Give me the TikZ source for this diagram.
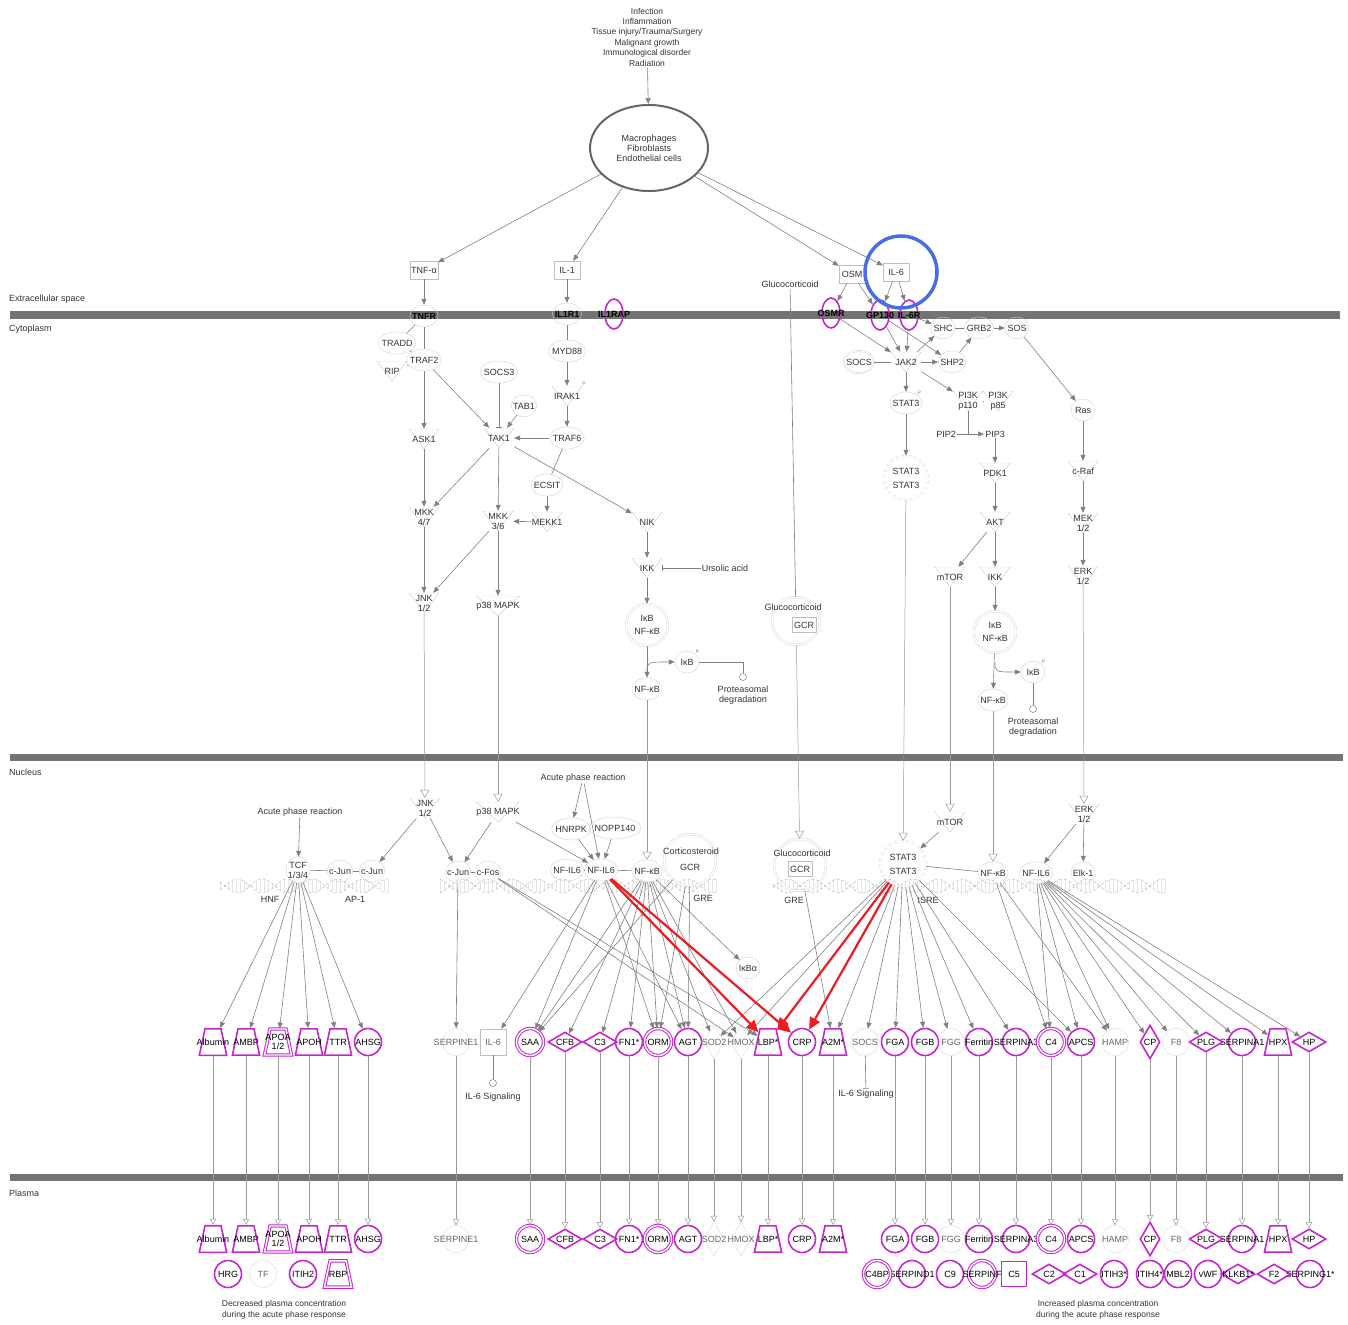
\documentclass[tikz,border=0pt]{standalone}
\usepackage{fontspec}
\setmainfont{Liberation Sans}
\usetikzlibrary{shapes.geometric,arrows.meta}
\definecolor{apmag}{RGB}{196,38,206}
\definecolor{hiblue}{RGB}{72,110,228}
\definecolor{hired}{RGB}{236,28,36}
\newcommand\ovtext[1]{\makebox[0pt]{#1}}

\begin{document}
\begin{tikzpicture}[x=1pt, y=-1pt,
    every node/.style={font=\fontsize{9}{10}\selectfont, text=black!80, inner sep=1pt},
    lbl/.style={align=center},
    mol/.style={ellipse, draw=black!18, minimum width=24pt, minimum height=22pt, inner xsep=-2pt, inner ysep=1pt},
    kin/.style={minimum width=30pt, minimum height=20pt, align=center, inner sep=0pt,
        path picture={\draw[black!22] (path picture bounding box.north west) -- (path picture bounding box.north east) -- (path picture bounding box.south) -- cycle;}},
    box/.style={draw=black!25, minimum width=26pt, minimum height=18pt},
    cpx/.style={circle, draw=black!18, double=white, double distance=1.5pt, minimum size=44pt, align=center, inner sep=0pt},
    rcp/.style={text=black, font=\fontsize{9}{10}\selectfont\bfseries},
    mel/.style={rcp, ellipse, draw=apmag, line width=1.6pt, minimum width=18pt, minimum height=30pt, inner sep=0pt},
    mc/.style={circle, draw=apmag, line width=1.6pt, minimum size=27pt, inner sep=0pt, text=black},
    mcc/.style={mc, line width=1pt, double=white, double distance=1.4pt},
    mt/.style={trapezium, draw=apmag, line width=1.6pt, trapezium left angle=78, trapezium right angle=78,
        inner xsep=8pt, inner ysep=10pt, text=black},
    mtt/.style={mt, line width=1pt, double=white, double distance=1.4pt, inner ysep=5pt},
    md/.style={diamond, draw=apmag, line width=1.6pt, minimum width=34pt, minimum height=20pt, inner sep=0pt, text=black},
    mdt/.style={md, minimum width=20pt, minimum height=34pt},
    msq/.style={rectangle, draw=apmag, line width=1.6pt, minimum size=25pt, text=black},
    fc/.style={circle, draw=black!15, minimum size=27pt, inner sep=0pt, text=black!60},
    fd/.style={diamond, draw=black!15, minimum width=20pt, minimum height=34pt, inner sep=0pt, text=black!60},
    dot/.style={circle, draw=black!60, minimum size=7pt, inner sep=0pt},
    pm/.style={label={[font=\fontsize{5}{5}\selectfont, text=black!50, inner sep=0pt]north east:P}},
    ar/.style={black!50, line width=0.6pt, -{Triangle[length=6pt,width=5pt]}},
    ln/.style={black!50, line width=0.6pt},
    inh/.style={black!50, line width=0.6pt, -{Bar[width=6pt]}},
    tr/.style={black!40, line width=0.5pt, -{Triangle[open,length=8pt,width=9pt]}},
    pl/.style={black!40, line width=0.5pt, -{Triangle[open,length=6pt,width=6pt]}},
    hot/.style={hired, line width=2.2pt, -{Triangle[length=12pt,width=11pt]}}]

    \useasboundingbox (0,0) rectangle (1348,1324);

    % membranes
    \fill[black!55] (10,311) rectangle (1340,319);
    \fill[black!55] (10,754) rectangle (1343,761);
    \fill[black!55] (10,1174) rectangle (1343,1181);
    \node[anchor=west] (ecs) at (8,299) {Extracellular space};
    \node[anchor=west] (cyt) at (8,329) {Cytoplasm};
    \node[anchor=west] (nuc) at (8,772) {Nucleus};
    \node[anchor=west] (pla) at (8,1193) {Plasma};

    % DNA strands
    \foreach \a/\b in {220/388, 440/718, 773/1165}{
        \pgfmathtruncatemacro\c{\a+4}
        \foreach \h in {\a,\c,...,\b}
            \draw[black!10, very thin] (\h,{886+7*sin(7.2*\h)}) -- (\h,{886-7*sin(7.2*\h)});
        \draw[black!30, densely dashed, thin] plot[domain=\a:\b, samples=120] (\x,{886+7*sin(7.2*\x)});
        \draw[black!30, densely dashed, thin] plot[domain=\a:\b, samples=120] (\x,{886-7*sin(7.2*\x)});
    }

    % triggers and source cells
    \node[lbl, font=\fontsize{8.5}{10.4}\selectfont] (cause) at (647,37) {Infection\\Inflammation\\Tissue injury/Trauma/Surgery\\Malignant growth\\Immunological disorder\\Radiation};
    \node[ellipse, draw=black!60, line width=2pt, minimum width=118pt, minimum height=86pt, lbl] (cells) at (649,148) {Macrophages\\Fibroblasts\\Endothelial cells};

    % ligands and receptors
    \node[box] (tnfa) at (424,270) {TNF-α};
    \node[box] (il1) at (567,270) {IL-1};
    \node[box] (osm) at (852,274) {OSM};
    \node[box] (il6) at (896,272) {IL-6};
    \node (gluc) at (790,284) {Glucocorticoid};
    \node[mol, rcp] (tnfr) at (424,316) {TNFR};
    \node[mol, rcp] (il1r1) at (567,314) {IL1R1};
    \node[mel] (il1rap) at (614,314) {\ovtext{IL1RAP}};
    \node[mel] (osmr) at (831,313) {\ovtext{OSMR}};
    \node[mel] (gp130) at (880,315) {\ovtext{GP130}};
    \node[mel] (il6r) at (909,315) {\ovtext{IL-6R}};

    % cytoplasm, left
    \node[mol] (tradd) at (397,343) {TRADD};
    \node[mol] (traf2) at (424,360) {TRAF2};
    \node[kin] (rip) at (392,371) {RIP};
    \node[mol] (socs3) at (499,372) {SOCS3};
    \node[mol] (tab1) at (524,406) {TAB1};
    \node[kin] (ask1) at (424,439) {ASK1};
    \node[kin] (tak1) at (499,438) {TAK1};
    \node[mol] (myd88) at (567,351) {MYD88};
    \node[kin, pm] (irak1) at (567,396) {IRAK1};
    \node[mol] (traf6) at (567,438) {TRAF6};
    \node[mol] (ecsit) at (547,485) {ECSIT};
    \node[kin] (mkk47) at (424,517) {MKK\\4/7};
    \node[kin] (mkk36) at (498,521) {MKK\\3/6};
    \node[kin] (mekk1) at (547,522) {MEKK1};
    \node[kin] (nik) at (647,522) {NIK};
    \node[kin] (ikk) at (647,568) {IKK};
    \node (urs) at (725,568) {Ursolic acid};
    \node[kin] (jnk) at (424,603) {JNK\\1/2};
    \node[kin] (p38) at (498,606) {p38 MAPK};
    \node[cpx, minimum size=42pt] (cplx1) at (647,625) {IκB\\[3pt]NF-κB};
    \node[mol, pm] (ikbp) at (687,662) {IκB};
    \node[mol] (nfkb1) at (647,689) {NF-κB};
    \coordinate (br1) at (647,672);
    \node[dot] (prot1) at (743,677) {};
    \node[lbl] (protl1) at (743,695) {Proteasomal\\degradation};
    \node[cpx, minimum size=48pt] (gcr1) at (796,621) {};
    \node (gcr1t) at (793,607) {Glucocorticoid};
    \node[box, minimum width=24pt, minimum height=15pt] (gcr1b) at (804,625) {GCR};

    % cytoplasm, right
    \node[mol] (shc) at (943,328) {SHC};
    \node[mol] (grb2) at (979,328) {GRB2};
    \node[mol] (sos) at (1017,328) {SOS};
    \node[mol, double=white, double distance=1pt] (socs) at (859,362) {SOCS};
    \node[kin] (jak2) at (906,362) {JAK2};
    \node[mol] (shp2) at (952,362) {SHP2};
    \node[mol, pm] (stat3a) at (906,403) {STAT3};
    \node[kin] (pi3k110) at (968,401) {PI3K\\p110};
    \node[kin] (pi3k85) at (998,401) {PI3K\\p85};
    \node (pip2) at (946,434) {PIP2};
    \node (pip3) at (995,434) {PIP3};
    \coordinate (cat) at (968,434);
    \node[cpx, dashed, minimum size=44pt] (stat3d) at (906,478) {STAT3\\[4pt]STAT3};
    \node[kin] (pdk1) at (995,473) {PDK1};
    \node[kin] (akt) at (995,522) {AKT};
    \node[kin] (mtor1) at (950,577) {mTOR};
    \node[kin] (ikk2) at (995,577) {IKK};
    \node[cpx, minimum size=42pt] (cplx2) at (995,632) {IκB\\[3pt]NF-κB};
    \node[mol, pm] (ikbp2) at (1033,672) {IκB};
    \node[mol] (nfkb2) at (993,700) {NF-κB};
    \coordinate (br2) at (995,662);
    \node[dot] (prot2) at (1033,709) {};
    \node[lbl] (protl2) at (1033,727) {Proteasomal\\degradation};
    \node[mol] (ras) at (1083,410) {Ras};
    \node[kin] (craf) at (1083,471) {c-Raf};
    \node[kin] (mek) at (1083,523) {MEK\\1/2};
    \node[kin] (erk1) at (1083,576) {ERK\\1/2};

    % nucleus
    \node (apr1) at (300,812) {Acute phase reaction};
    \node[mol, lbl] (tcf) at (298,870) {TCF\\1/3/4};
    \node[mol] (cjun1) at (340,871) {c-Jun};
    \node[mol] (cjun2) at (372,871) {c-Jun};
    \node (hnf) at (270,899) {HNF};
    \node (ap1) at (355,899) {AP-1};
    \node[kin] (jnk2) at (425,808) {JNK\\1/2};
    \node[kin] (p38n) at (498,812) {p38 MAPK};
    \node[mol] (cjun3) at (458,872) {c-Jun};
    \node[mol] (cfos) at (488,872) {c-Fos};
    \node (apr2) at (583,778) {Acute phase reaction};
    \node[mol] (hnrpk) at (571,829) {HNRPK};
    \node[mol] (nopp) at (615,828) {NOPP140};
    \node[mol] (nfil6a) at (567,870) {NF-IL6};
    \node[mol] (nfil6b) at (601,870) {NF-IL6};
    \node[mol] (nfkbn) at (647,871) {NF-κB};
    \node[cpx, minimum size=52pt] (gcr2) at (690,860) {};
    \node (gcr2t) at (691,851) {Corticosteroid};
    \node (gcr2b) at (690,867) {GCR};
    \node (gre1) at (703,898) {GRE};
    \node[mol] (ikba) at (748,968) {IκBα};
    \node[cpx, minimum size=52pt] (gcr3) at (800,865) {};
    \node (gcr3t) at (802,853) {Glucocorticoid};
    \node[box, minimum width=24pt, minimum height=15pt] (gcr3b) at (800,869) {GCR};
    \node (gre2) at (794,900) {GRE};
    \node[cpx, dashed, minimum size=46pt] (stat3n) at (903,864) {STAT3\\[4pt]STAT3};
    \node[kin] (mtor2) at (950,822) {mTOR};
    \node (isre) at (928,900) {ISRE};
    \node[mol] (nfkbn2) at (993,873) {NF-κB};
    \node[mol] (nfil6c) at (1036,873) {NF-IL6};
    \node[mol] (elk1) at (1083,873) {Elk-1};
    \node[kin] (erk2) at (1084,814) {ERK\\1/2};

    % acute phase proteins: nucleus row (n) and plasma row (p)
    \foreach \r/\y in {n/1042,p/1239}{
        \foreach \n/\x/\t in {alb/213/Albumin, ambp/246/AMBP, apoh/309/APOH, ttr/338/TTR, lbp/768/LBP*, a2m/833/A2M*, hpx/1278/HPX}
            \node[mt] (\n\r) at (\x,\y) {\ovtext{\t}};
        \node[mtt] (apoa\r) at (278,\y) {\ovtext{\shortstack{APOA\\1/2}}};
        \foreach \n/\x/\t in {ahsg/368/AHSG, fn1/629/FN1*, agt/688/AGT, crp/802/CRP, fga/895/FGA, fgb/925/FGB, ferr/979/Ferritin, sa3/1016/SERPINA3, apcs/1081/APCS, sa1/1242/SERPINA1}
            \node[mc] (\n\r) at (\x,\y) {\ovtext{\t}};
        \foreach \n/\x/\t in {saa/530/SAA, orm/658/ORM, c4/1051/C4}
            \node[mcc] (\n\r) at (\x,\y) {\ovtext{\t}};
        \foreach \n/\x/\t in {cfb/565/CFB, c3/600/C3, plg/1206/PLG, hp/1309/HP}
            \node[md] (\n\r) at (\x,\y) {\ovtext{\t}};
        \node[mdt] (cp\r) at (1150,\y) {\ovtext{CP}};
        \foreach \n/\x/\t in {serpine/456/SERPINE1, fgg/951/FGG, hamp/1115/HAMP, f8/1176/F8}
            \node[fc] (\n\r) at (\x,\y) {\ovtext{\t}};
        \foreach \n/\x/\t in {sod2/714/SOD2, hmox/741/HMOX}
            \node[fd] (\n\r) at (\x,\y) {\ovtext{\t}};
    }
    \node[box, minimum size=26pt, text=black!60] (il6n) at (493,1042) {IL-6};
    \node[fc, double=white, double distance=1pt] (socsn) at (865,1042) {\ovtext{SOCS}};
    \node[dot] (sig1) at (493,1083) {};
    \node (sig1t) at (493,1097) {IL-6 Signaling};
    \node (sig2t) at (866,1094) {IL-6 Signaling};

    % plasma, second row
    \foreach \n/\x/\t in {hrg/228/HRG, itih2/303/ITIH2, sd1/912/SERPIND1, c9/950/C9, itih3/1114/ITIH3*, itih4/1150/ITIH4*, mbl2/1178/MBL2, vwf/1208/vWF, sg1/1310/SERPING1*}
        \node[mc] (\n) at (\x,1274) {\ovtext{\t}};
    \foreach \n/\x/\t in {c4bp/877/C4BP, sf/982/SERPINF}
        \node[mcc] (\n) at (\x,1274) {\ovtext{\t}};
    \foreach \n/\x/\t in {c2/1049/C2, c1/1080/C1, klkb1/1238/KLKB1*, f2/1274/F2}
        \node[md] (\n) at (\x,1274) {\ovtext{\t}};
    \node[fc] (tf) at (263,1274) {TF};
    \node[mtt, inner ysep=10pt] (rbp) at (338,1274) {\ovtext{RBP}};
    \node[msq] (c5) at (1014,1274) {C5};
    \node[lbl, font=\fontsize{8.5}{10.5}\selectfont] (decr) at (284,1310) {Decreased plasma concentration\\during the acute phase response};
    \node[lbl, font=\fontsize{8.5}{10.5}\selectfont] (incr) at (1098,1310) {Increased plasma concentration\\during the acute phase response};

    % signalling, top and left
    \draw[ar] (cause) -- (cells);
    \foreach \t in {tnfa,il1,osm,il6} \draw[ar] (cells) -- (\t);
    \draw[ar] (tnfa) -- (tnfr);
    \draw[ln] (tnfr) -- (tradd);
    \draw[ln] (tnfr) -- (traf2);
    \draw[ln] (tradd) -- (traf2);
    \draw[ln] (rip) -- (traf2);
    \draw[ar] (traf2) -- (ask1);
    \draw[ar] (traf2) -- (tak1);
    \draw[inh] (socs3) -- (tak1);
    \draw[ar] (tab1) -- (tak1);
    \draw[ar] (traf6) -- (tak1);
    \draw[ar] (il1) -- (il1r1);
    \draw[ln] (il1r1) -- (myd88);
    \draw[ar] (myd88) -- (irak1);
    \draw[ar] (irak1) -- (traf6);
    \draw[ln] (traf6) -- (ecsit);
    \draw[ar] (ecsit) -- (mekk1);
    \draw[ar] (mekk1) -- (mkk36);
    \draw[ar] (ask1) -- (mkk47);
    \draw[ar] (tak1) -- (mkk47);
    \draw[ar] (tak1) -- (mkk36);
    \draw[ar] (tak1) -- (nik);
    \draw[ar] (mkk47) -- (jnk);
    \draw[ar] (mkk36) -- (jnk);
    \draw[ar] (mkk36) -- (p38);
    \draw[ar] (nik) -- (ikk);
    \draw[inh] (urs) -- (ikk);
    \draw[ar] (ikk) -- (cplx1);
    \draw[ar] (cplx1) -- (nfkb1);
    \draw[ar] (br1) .. controls (647,662) .. (ikbp);
    \draw[ln] (ikbp) -| (prot1);
    \draw[ln] (gluc) -- (gcr1);

    % signalling, right
    \draw[ar] (osm) -- (osmr);
    \draw[ar] (osm) -- (gp130);
    \draw[ar] (il6) -- (gp130);
    \draw[ar] (il6) -- (il6r);
    \draw[ar] (osmr) -- (jak2);
    \draw[ar] (gp130) -- (jak2);
    \draw[ar] (il6r) -- (jak2);
    \draw[ar] (il6r) -- (shc);
    \draw[ar] (gp130) -- (shp2);
    \draw[ar] (jak2) -- (shc);
    \draw[ln] (shc) -- (grb2);
    \draw[ar] (grb2) -- (sos);
    \draw[ar] (shp2) -- (grb2);
    \draw[ln] (socs) -- (jak2);
    \draw[ar] (jak2) -- (shp2);
    \draw[ar] (jak2) -- (stat3a);
    \draw[ar] (jak2) -- (pi3k110);
    \draw[ln] (pi3k110) -- (pi3k85);
    \draw[ln] (pi3k110) -- (cat);
    \draw[ar] (pip2) -- (pip3);
    \draw[ar] (stat3a) -- (stat3d);
    \draw[ar] (pip3) -- (pdk1);
    \draw[ar] (pdk1) -- (akt);
    \draw[ar] (akt) -- (mtor1);
    \draw[ar] (akt) -- (ikk2);
    \draw[ar] (ikk2) -- (cplx2);
    \draw[ar] (cplx2) -- (nfkb2);
    \draw[ar] (br2) .. controls (995,672) .. (ikbp2);
    \draw[ln] (ikbp2) -- (prot2);
    \draw[ar] (sos) -- (ras);
    \draw[ar] (ras) -- (craf);
    \draw[ar] (craf) -- (mek);
    \draw[ar] (mek) -- (erk1);

    % into the nucleus
    \draw[tr] (jnk) -- (jnk2);
    \draw[tr] (p38) -- (p38n);
    \draw[tr] (nfkb1) -- (nfkbn);
    \draw[tr] (gcr1) -- (gcr3);
    \draw[tr] (stat3d) -- (stat3n);
    \draw[tr] (mtor1) -- (mtor2);
    \draw[tr] (nfkb2) -- (nfkbn2);
    \draw[tr] (erk1) -- (erk2);

    % nucleus
    \draw[ar] (apr1) -- (tcf);
    \draw[ln] (tcf) -- (cjun1);
    \draw[ln] (cjun1) -- (cjun2);
    \draw[ar] (jnk2) -- (cjun2);
    \draw[ar] (jnk2) -- (cjun3);
    \draw[ar] (p38n) -- (cjun3);
    \draw[ar] (p38n) -- (nfil6b);
    \draw[ln] (cjun3) -- (cfos);
    \draw[ar] (apr2) -- (hnrpk);
    \draw[ar] (apr2) -- (nfil6b);
    \draw[ar] (hnrpk) -- (nfil6b);
    \draw[ar] (nopp) -- (nfil6b);
    \draw[ln] (nfil6a) -- (nfil6b);
    \draw[ln] (nfil6b) -- (nfkbn);
    \draw[ar] (mtor2) -- (stat3n);
    \draw[ln] (stat3n) -- (nfkbn2);
    \draw[ar] (erk2) -- (nfil6c);
    \draw[ar] (erk2) -- (elk1);

    % gene targets
    \foreach \t in {albn,ambpn,apoan,apohn,ttrn,ahsgn} \draw[ar] (tcf) -- (\t);
    \draw[ar] (cjun3) -- (serpinen);
    \foreach \t in {hmoxn,lbpn} \draw[ar] (cfos) -- (\t);
    \foreach \t in {il6n,saan,ormn,agtn} \draw[ar] (nfil6b) -- (\t);
    \foreach \t in {saan,cfbn,c3n,fn1n,ormn,agtn,sod2n,hmoxn,ikba} \draw[ar] (nfkbn) -- (\t);
    \foreach \t in {saan,ormn,agtn} \draw[ar] (gcr2) -- (\t);
    \draw[ar] (gcr3) -- (a2mn);
    \foreach \t in {sod2n,hmoxn,a2mn,socsn,fgan,fgbn,fggn,ferrn,sa3n,apcsn} \draw[ar] (stat3n) -- (\t);
    \foreach \t in {c4n,hampn} \draw[ar] (nfkbn2) -- (\t);
    \foreach \t in {c4n,apcsn,hampn,cpn,f8n,plgn,sa1n,hpxn,hpn} \draw[ar] (nfil6c) -- (\t);
    \draw[ln] (il6n) -- (sig1);
    \draw[inh] (socsn) -- (sig2t);

    % secretion into plasma
    \foreach \n in {alb,ambp,apoa,apoh,ttr,ahsg,serpine,saa,cfb,c3,fn1,orm,agt,sod2,hmox,lbp,crp,a2m,fga,fgb,fgg,ferr,sa3,c4,apcs,hamp,cp,f8,plg,sa1,hpx,hp}
        \draw[pl] (\n n) -- (\n p);

    % highlighted
    \draw[hot] (nfil6b) -- (lbpn);
    \draw[hot] (nfil6b) -- (crpn);
    \draw[hot] (stat3n) -- (lbpn);
    \draw[hot] (stat3n) -- (crpn);
    \node[circle, draw=hiblue, line width=3.5pt, minimum size=72pt] (hl) at (901,272) {};
\end{tikzpicture}
\end{document}
